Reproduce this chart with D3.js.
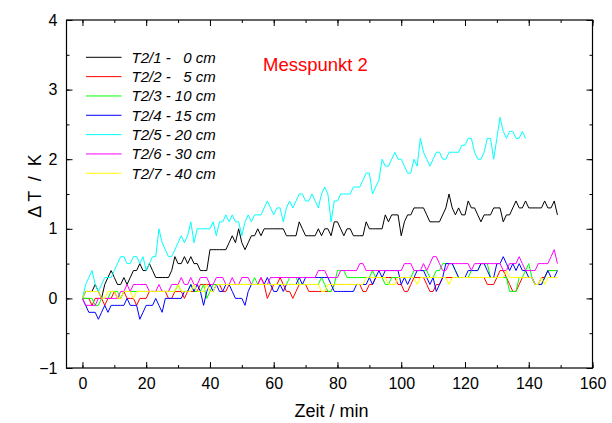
<!DOCTYPE html>
<html><head><meta charset="utf-8">
<script src="https://cdn.jsdelivr.net/npm/d3@7"></script>
<style>body{margin:0;background:#fff}svg{display:block}text{font-family:Arial,"Liberation Sans",sans-serif}</style>
</head><body><svg id="c" width="612" height="423"></svg>
<script>
const xTicks=[0,20,40,60,80,100,120,140,160];
const yTicks=[-1,0,1,2,3,4];
const seriesNames=["T2/1 -   0 cm","T2/2 -   5 cm","T2/3 - 10 cm","T2/4 - 15 cm","T2/5 - 20 cm","T2/6 - 30 cm","T2/7 - 40 cm"];
const seriesColors=["#000000","#ff0000","#00ff00","#0000ff","#00ffff","#ff00ff","#ffff00"];
const t21=[0,0.1,0.1,0.1,0.2,0.1,0,0.2,0.3,0.4, 0.3,0.2,0.2,0.3,0.2,0.3,0.4,0.4,0.5,0.4, 0.4,0.5,0.4,0.3,0.3,0.3,0.3,0.3,0.4,0.6, 0.5,0.5,0.6,0.5,0.6,0.5,0.5,0.4,0.4,0.4, 0.7,0.7,0.7,0.7,0.7,0.7,0.8,0.9,0.8,1.0, 0.8,0.7,0.8,0.9,0.9,1.0,0.9,1.0,1.0,1.0, 1.0,1.0,1.0,1.0,0.9,0.9,0.9,0.9,1.1,1.0, 0.9,0.9,0.9,0.9,1.0,0.9,1.0,1.0,0.9,1.1, 1.1,1.0,0.9,1.0,1.0,0.9,0.9,0.9,0.9,1.1, 1.0,1.0,1.0,1.0,1.0,1.2,1.1,1.2,1.2,1.2, 0.9,1.1,1.2,1.2,1.3,1.3,1.3,1.3,1.2,1.1, 1.1,1.1,1.1,1.2,1.3,1.5,1.3,1.2,1.3,1.2, 1.2,1.4,1.3,1.3,1.2,1.1,1.2,1.2,1.2,1.3, 1.3,1.3,1.1,1.2,1.2,1.3,1.4,1.3,1.3,1.4, 1.3,1.3,1.3,1.3,1.3,1.4,1.3,1.3,1.4,1.2];
const t22=[0,0,0,-0.1,0,0,0,-0.1,0,0, 0.1,0,0,0.1,0,0,0,-0.1,0,0, 0,0.1,0.1,0.1,0.1,0.1,0.1,0,0,0.1, 0.1,0.1,0,0.1,0.1,0.1,0.1,0.2,0.2,0.2, 0.2,0.2,0.2,0.2,0.1,0.1,0.2,0.2,0.2,0.2, 0.2,0.2,0.2,0.2,0.2,0.2,0.3,0.2,0,0.1, 0.2,0.2,0.3,0.2,0.1,0.1,0,0.1,0.2,0.2, 0.2,0.1,0.1,0.1,0.1,0.1,0.1,0.1,0.1,0.2, 0.2,0.2,0.2,0.2,0.2,0.2,0.2,0.2,0.1,0.1, 0.2,0.2,0.3,0.3,0.3,0.3,0.3,0.3,0.3,0.2, 0.2,0.1,0.1,0.2,0.3,0.3,0.3,0.3,0.2,0.1, 0.1,0.2,0.2,0.3,0.3,0.3,0.3,0.3,0.3,0.3, 0.3,0.3,0.3,0.3,0.3,0.3,0.3,0.2,0.2,0.2, 0.3,0.4,0.4,0.3,0.2,0.1,0.1,0.2,0.3,0.3, 0.3,0.3,0.2,0.2,0.3,0.3,0.4,0.4,0.4,0.4];
const t23=[0,0,0,0,-0.1,-0.1,0,0,0,0.1, 0.1,0.1,0,0.1,0.1,0.1,0.1,0.1,0.1,0.1, 0.1,0.1,0.1,0.1,0.1,0.1,0.1,0.1,0.1,0.1, 0.2,0.1,0.1,0.1,0.2,0.1,0.1,0.1,0.2,0, 0.1,0.2,0.2,0.2,0.2,0.2,0.2,0.2,0.2,0.2, 0.2,0.2,0.2,0.2,0.3,0.2,0.2,0.2,0.2,0.2, 0.2,0.2,0.2,0.2,0.2,0.3,0.3,0.3,0.2,0.2, 0.2,0.2,0.2,0.2,0.2,0.3,0.2,0.1,0.1,0.2, 0.4,0.4,0.4,0.3,0.3,0.3,0.3,0.3,0.3,0.3, 0.3,0.4,0.3,0.3,0.3,0.2,0.2,0.3,0.3,0.3, 0.3,0.3,0.3,0.3,0.4,0.4,0.4,0.4,0.4,0.3, 0.3,0.4,0.4,0.5,0.5,0.5,0.5,0.4,0.3,0.3, 0.3,0.3,0.4,0.4,0.4,0.5,0.5,0.5,0.3,0.3, 0.3,0.3,0.3,0.3,0.1,0.1,0.1,0.3,0.3,0.4, 0.5,0.3,0.2,0.2,0.2,0.3,0.4,0.4,0.4,0.4];
const t24=[0,-0.1,-0.2,-0.2,-0.2,-0.3,-0.2,-0.1,-0.2,-0.1, -0.1,-0.1,-0.1,-0.1,0,-0.1,-0.1,-0.1,-0.3,-0.2, -0.1,-0.1,-0.1,0,-0.1,-0.2,0,0,0,0, 0,0,0.1,0.1,0.2,0.1,0.2,0.1,-0.1,0.1, 0.2,0.1,0.2,0.1,0.1,0.2,0.2,0.1,0,0, 0,-0.1,0.1,0.2,0.2,0.2,0.2,0.2,0.3,0.2, 0.1,0.1,0.2,0.1,0.2,0.2,0.2,0.2,0.3,0.2, 0.3,0.3,0.3,0.3,0.3,0.3,0.3,0.3,0.2,0.1, 0.1,0.1,0.1,0.1,0.1,0.1,0.2,0.2,0.2,0.2, 0.3,0.2,0.3,0.4,0.3,0.4,0.4,0.4,0.4,0.4, 0.2,0.3,0.2,0.3,0.3,0.4,0.4,0.4,0.3,0.2, 0.3,0.1,0.2,0.3,0.5,0.5,0.5,0.4,0.3,0.3, 0.3,0.4,0.4,0.4,0.4,0.5,0.5,0.4,0.3,0.3, 0.5,0.5,0.6,0.5,0.4,0.5,0.4,0.5,0.4,0.4, 0.3,0.3,0.2,0.2,0.2,0.3,0.4,0.3,0.3,0.4];
const t25=[0,0.2,0.3,0.4,0.2,0.1,0.2,0.3,0.3,0.3, 0.4,0.5,0.6,0.6,0.5,0.5,0.6,0.6,0.5,0.6, 0.4,0.5,0.6,0.6,1.0,0.8,0.7,0.6,0.6,0.7, 0.8,0.9,0.8,0.9,1.1,0.8,1.0,1.0,1.0,1.0, 1.0,1.1,0.9,1.1,1.1,1.2,1.1,1.2,1.1,1.1, 0.9,1.1,1.2,1.1,1.2,1.2,1.2,1.3,1.4,1.3, 1.2,1.3,1.3,1.1,1.3,1.4,1.3,1.4,1.5,1.5, 1.4,1.4,1.5,1.4,1.3,1.5,1.6,1.5,1.1,1.4, 1.4,1.5,1.5,1.5,1.5,1.6,1.6,1.6,1.7,1.8, 1.8,1.5,1.6,1.7,2.0,1.9,1.9,2.0,2.1,2.0, 2.0,1.9,1.8,1.8,2.0,1.9,2.3,2.1,2.0,1.9, 2.0,2.1,2.1,2.0,2.0,2.1,2.1,2.1,2.1,2.2, 2.2,2.3,2.3,2.1,2.0,2.0,2.1,2.3,2.3,2.0, 2.3,2.6,2.4,2.3,2.4,2.4,2.3,2.3,2.4,2.3];
const t26=[0,-0.1,-0.1,-0.1,-0.1,0,0,0,0,0, 0,0,0.1,0.1,0.2,0.1,0.2,0.2,0.2,0.2, 0.2,0.1,0.1,0.1,0.2,0.1,0.1,0.1,0.2,0.2, 0.2,0.3,0.2,0.2,0.3,0.2,0.2,0.3,0.3,0.3, 0.2,0.2,0.3,0.3,0.3,0.2,0.2,0.3,0.2,0.2, 0.3,0.3,0.3,0.2,0.2,0.2,0.3,0.2,0.2,0.3, 0.3,0.3,0.3,0.3,0.3,0.3,0.3,0.3,0.3,0.3, 0.3,0.3,0.3,0.3,0.4,0.4,0.4,0.3,0.3,0.3, 0.3,0.4,0.4,0.4,0.4,0.4,0.4,0.5,0.5,0.4, 0.4,0.4,0.4,0.4,0.4,0.4,0.4,0.4,0.4,0.4, 0.4,0.5,0.5,0.5,0.4,0.4,0.4,0.5,0.4,0.5, 0.6,0.6,0.5,0.4,0.4,0.5,0.5,0.5,0.5,0.5, 0.5,0.5,0.4,0.5,0.5,0.5,0.5,0.5,0.5,0.5, 0.5,0.5,0.4,0.4,0.5,0.5,0.5,0.6,0.5,0.4, 0.4,0.4,0.4,0.5,0.5,0.5,0.5,0.6,0.7,0.5];
const t27=[0,0.1,0.1,0.1,0.1,0.1,0,0,0.1,0.1, 0.1,0,0,0.1,0.1,0.1,0,0.1,0.1,0.1, 0.1,0.1,0.1,0.1,0.1,0.1,0.1,0.1,0.1,0.1, 0.2,0.1,0.1,0.1,0.1,0.2,0.1,0.1,0.1,0.2, 0.1,0.1,0.2,0.2,0.2,0.2,0.2,0.2,0.2,0.2, 0.2,0.2,0.2,0.2,0.2,0.2,0.2,0.2,0.2,0.2, 0.2,0.2,0.2,0.2,0.2,0.2,0.2,0.2,0.2,0.2, 0.2,0.2,0.2,0.2,0.2,0.1,0.1,0.2,0.2,0.2, 0.2,0.2,0.2,0.2,0.2,0.2,0.2,0.2,0.2,0.3, 0.3,0.3,0.3,0.3,0.3,0.3,0.2,0.2,0.2,0.3, 0.3,0.3,0.3,0.3,0.3,0.2,0.3,0.3,0.3,0.3, 0.3,0.3,0.3,0.3,0.3,0.2,0.3,0.3,0.3,0.3, 0.3,0.3,0.3,0.3,0.3,0.3,0.3,0.3,0.3,0.3, 0.3,0.3,0.3,0.4,0.3,0.3,0.3,0.3,0.3,0.3, 0.3,0.3,0.2,0.2,0.3,0.2,0.3,0.3,0.3,0.3];
const seriesValues=[t21,t22,t23,t24,t25,t26,t27];

const svg=d3.select("#c");
const L=66.5,R=592.5,T=20,B=368;
const x=d3.scaleLinear().domain([-5,160]).range([L,R]);
const y=d3.scaleLinear().domain([-1,4]).range([B,T]);

const g=svg.append("g");
const line=d3.line().x((d,i)=>x(i)).y(d=>y(d));
seriesValues.forEach((vals,k)=>{
  g.append("path").datum(vals).attr("fill","none").attr("stroke",seriesColors[k])
   .attr("stroke-width",1).attr("stroke-linejoin","miter").attr("d",line);
});

const xMinor=d3.range(0,161,10), yMinor=d3.range(-1,4.01,0.5);
const ax=svg.append("g").attr("transform",`translate(0,${B})`)
  .call(d3.axisBottom(x).tickValues(xTicks).tickSize(-6).tickPadding(10).tickFormat(d3.format("d")));
const axT=svg.append("g").attr("transform",`translate(0,${T})`)
  .call(d3.axisTop(x).tickValues(xTicks).tickSize(-6).tickFormat(""));
const axm=svg.append("g").attr("transform",`translate(0,${B})`)
  .call(d3.axisBottom(x).tickValues(xMinor).tickSize(-3).tickFormat(""));
const axmT=svg.append("g").attr("transform",`translate(0,${T})`)
  .call(d3.axisTop(x).tickValues(xMinor).tickSize(-3).tickFormat(""));
const ay=svg.append("g").attr("transform",`translate(${L},0)`)
  .call(d3.axisLeft(y).tickValues(yTicks).tickSize(-6).tickPadding(9).tickFormat(d3.format("d")));
const ayR=svg.append("g").attr("transform",`translate(${R},0)`)
  .call(d3.axisRight(y).tickValues(yTicks).tickSize(-6).tickFormat(""));
const aym=svg.append("g").attr("transform",`translate(${L},0)`)
  .call(d3.axisLeft(y).tickValues(yMinor).tickSize(-3).tickFormat(""));
const aymR=svg.append("g").attr("transform",`translate(${R},0)`)
  .call(d3.axisRight(y).tickValues(yMinor).tickSize(-3).tickFormat(""));
[ax,axT,axm,axmT,ay,ayR,aym,aymR].forEach(a=>{
  a.select(".domain").remove();
  a.selectAll("line").attr("stroke","#000").attr("stroke-width",1);
  a.selectAll("text").attr("font-size",16).attr("fill","#000").attr("font-family","Arial, 'Liberation Sans', sans-serif");
});
svg.append("rect").attr("x",L).attr("y",T).attr("width",R-L).attr("height",B-T)
  .attr("fill","none").attr("stroke","#000").attr("stroke-width",1.2);

svg.append("text").attr("x",(L+R)/2+2).attr("y",417).attr("text-anchor","middle")
  .attr("font-size",18).text("Zeit / min");
svg.append("text").attr("transform","translate(41,186) rotate(-90)").attr("text-anchor","middle")
  .attr("font-size",18).style("white-space","pre").text("\u0394 T  /  K");

svg.append("text").attr("x",263).attr("y",71).attr("font-size",18.5).attr("fill","#ff0000").text("Messpunkt 2");

const leg=svg.append("g");
seriesNames.forEach((n,k)=>{
  const yy=57.3+k*19.33;
  leg.append("line").attr("x1",86).attr("x2",121.5).attr("y1",yy).attr("y2",yy)
    .attr("stroke",seriesColors[k]).attr("stroke-width",1);
  leg.append("text").attr("x",131.5).attr("y",yy+5.3).attr("font-size",15).attr("font-style","italic")
    .style("white-space","pre").text(n);
});
</script></body></html>
